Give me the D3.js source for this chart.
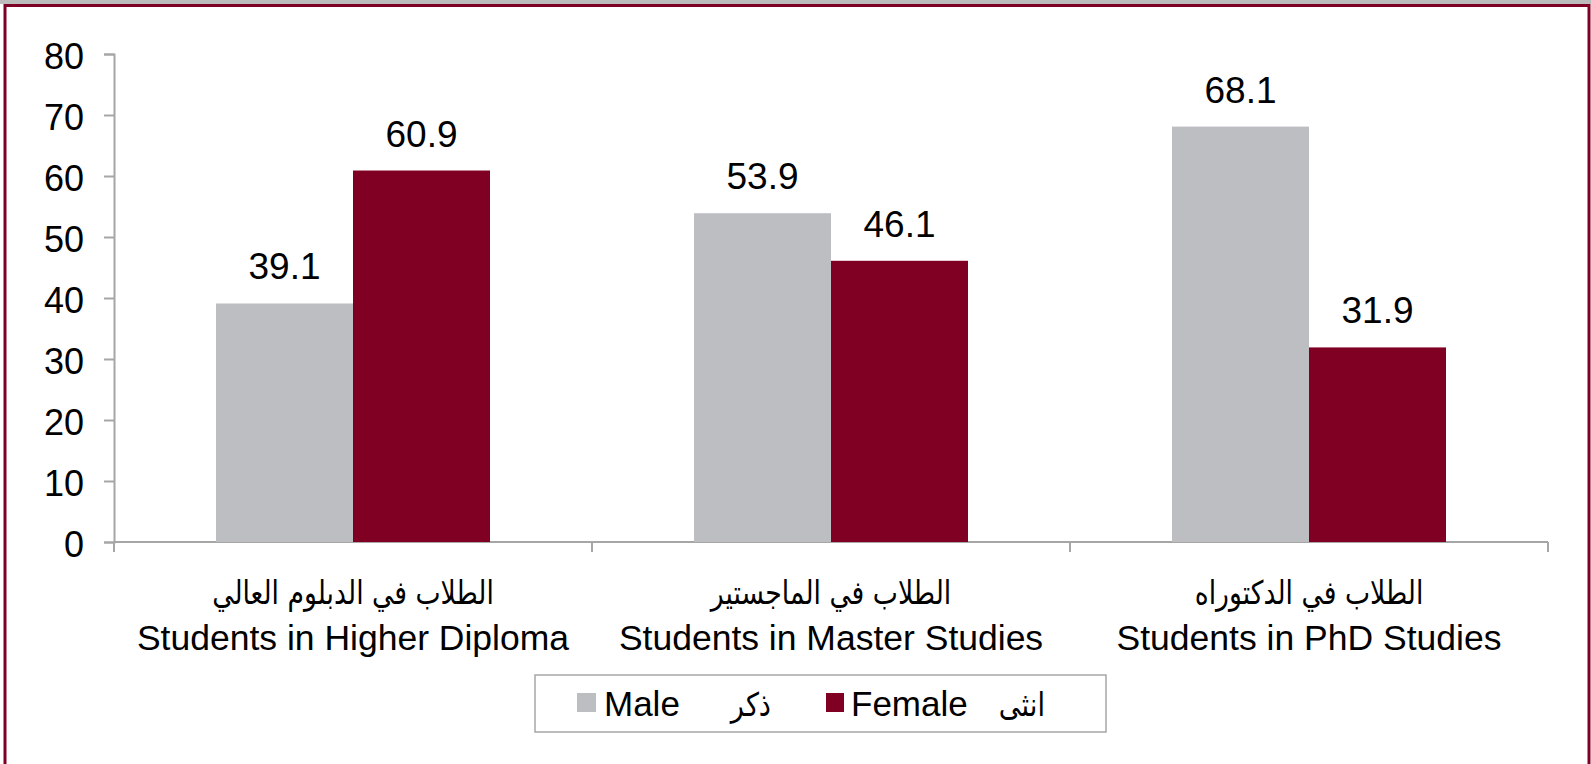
<!DOCTYPE html>
<html>
<head>
<meta charset="utf-8">
<script src="https://cdn.jsdelivr.net/npm/d3@7.9.0/dist/d3.min.js"></script>
<style>
  body { margin: 0; background: #fff; }
  svg { display: block; font-family: "Liberation Sans", Arial, sans-serif; }
</style>
</head>
<body>
<svg id="chart" width="1591" height="764"></svg>
<script>
// data
const categories = ['Higher Diploma', 'Master', 'PhD'];
const labelsAr = ['الطلاب في الدبلوم العالي', 'الطلاب في الماجستير', 'الطلاب في الدكتوراه'];
const labelsEn = ['Students in Higher Diploma', 'Students in Master Studies', 'Students in PhD Studies'];
const male = [39.1, 53.9, 68.1];
const female = [60.9, 46.1, 31.9];
const yTicks = [0, 10, 20, 30, 40, 50, 60, 70, 80];

const grey = '#bdbec2';
const maroon = '#800024';
const axisCol = '#a6a6a6';
const arFont = '"DejaVu Sans", sans-serif';

let svg = d3.select('#chart');

// outer frame
svg.append('rect').attr('x', 0).attr('y', 0).attr('width', 1591).attr('height', 4).attr('fill', '#bcbcbc');
svg.append('rect').attr('x', 5).attr('y', 5.5).attr('width', 1584).attr('height', 800)
  .attr('fill', 'none').attr('stroke', '#7f0025').attr('stroke-width', 3);

let x0 = d3.scaleBand().domain(categories).range([114, 1548]).padding(0);
let x1 = d3.scaleBand().domain(['male', 'female']).range([102, x0.bandwidth() - 102]).padding(0);
let y = d3.scaleLinear().domain([0, 80]).range([542, 54]);

// y axis
let yAxis = svg.append('g').attr('transform', 'translate(114,0)')
  .call(d3.axisLeft(y).tickValues(yTicks).tickSize(10).tickPadding(20));
yAxis.select('.domain').attr('stroke', axisCol).attr('stroke-width', 2);
yAxis.selectAll('.tick line').attr('stroke', axisCol).attr('stroke-width', 2);
yAxis.selectAll('.tick text').attr('font-size', 36).attr('fill', '#000').attr('dy', '0.4em')
  .attr('font-family', '"Liberation Sans", Arial, sans-serif');

// x axis line and ticks at category boundaries
let xg = svg.append('g');
xg.append('line').attr('x1', 114).attr('x2', 1548).attr('y1', y(0)).attr('y2', y(0))
  .attr('stroke', axisCol).attr('stroke-width', 2);
let bounds = categories.map(c => x0(c)).concat([x0(categories[2]) + x0.bandwidth()]);
bounds.forEach(b => {
  xg.append('line').attr('x1', b).attr('x2', b).attr('y1', y(0)).attr('y2', y(0) + 10)
    .attr('stroke', axisCol).attr('stroke-width', 2);
});

// bars
let rows = categories.map((c, i) => ({ cat: c, male: male[i], female: female[i] }));
let groups = svg.selectAll('.grp').data(rows).join('g')
  .attr('transform', d => `translate(${x0(d.cat)},0)`);

groups.each(function (d) {
  let g = d3.select(this);
  [['male', grey], ['female', maroon]].forEach(([k, col]) => {
    g.append('rect')
      .attr('x', x1(k)).attr('y', y(d[k]))
      .attr('width', x1.bandwidth()).attr('height', y(0) - y(d[k]))
      .attr('fill', col);
    g.append('text')
      .attr('x', x1(k) + x1.bandwidth() / 2).attr('y', y(d[k]) - 24)
      .attr('text-anchor', 'middle').attr('font-size', 37)
      .text(d[k].toFixed(1));
  });
});

// category labels
categories.forEach((c, i) => {
  let cx = x0(c) + x0.bandwidth() / 2;
  svg.append('g').attr('transform', `translate(${cx},604) scale(0.86,1.05)`)
    .append('text').attr('text-anchor', 'middle')
    .attr('font-size', 31).attr('font-family', arFont).text(labelsAr[i]);
  svg.append('text').attr('x', cx).attr('y', 650).attr('text-anchor', 'middle')
    .attr('font-size', 35.5).text(labelsEn[i]);
});

// legend
let lg = svg.append('g');
lg.append('rect').attr('x', 535).attr('y', 675).attr('width', 571).attr('height', 57)
  .attr('fill', '#fff').attr('stroke', axisCol).attr('stroke-width', 1.5);
lg.append('rect').attr('x', 577).attr('y', 693).attr('width', 19).attr('height', 19).attr('fill', grey);
lg.append('text').attr('x', 604).attr('y', 716).attr('font-size', 35).text('Male');
lg.append('g').attr('transform', 'translate(771,716) scale(0.88,1.05)')
  .append('text').attr('font-size', 31).attr('text-anchor', 'end')
  .attr('font-family', arFont).text('ذكر');
lg.append('rect').attr('x', 826).attr('y', 693).attr('width', 18).attr('height', 19).attr('fill', maroon);
lg.append('text').attr('x', 851).attr('y', 716).attr('font-size', 35).text('Female');
lg.append('g').attr('transform', 'translate(1045,716) scale(0.88,1.05)')
  .append('text').attr('font-size', 31).attr('text-anchor', 'end')
  .attr('font-family', arFont).text('انثى');
</script>
</body>
</html>
